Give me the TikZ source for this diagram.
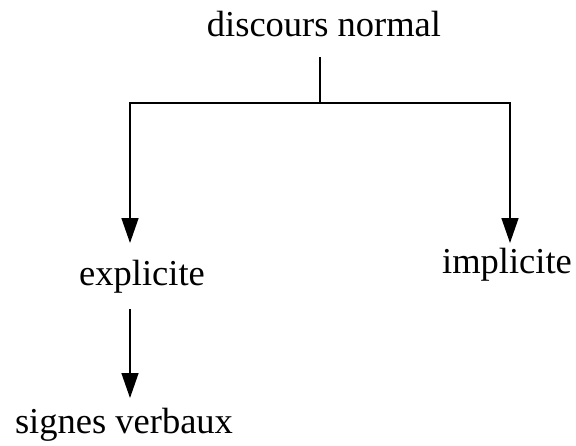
\documentclass[tikz,border=0pt]{standalone}
\usepackage{fontspec}
\setmainfont{Liberation Serif}
\usetikzlibrary{arrows.meta}
\tikzset{
  lbl/.style={anchor=base,inner sep=0pt,font=\fontsize{36.5}{44}\selectfont},
  arr/.style={-{Triangle[length=25pt,width=17pt]},line width=1.4pt},
}
\begin{document}
\begin{tikzpicture}[x=1pt,y=-1pt]
    \useasboundingbox (0,0) rectangle (576,445);
    \node[lbl] (discours) at (324,36) {discours normal};
    \node[lbl] (explicite) at (142,285) {explicite};
    \node[lbl] (implicite) at (507,273) {implicite};
    \node[lbl] (signes) at (124,433) {signes verbaux};
    \coordinate (stem) at (320,57);
    \coordinate (fork) at (320,103);
    \coordinate (ltip) at (130,243);
    \coordinate (rtip) at (510,243);
    \coordinate (lstart) at (130,309);
    \coordinate (ltip2) at (130,398);
    \draw [line width=1.4pt] (stem)--(fork);
    \draw [arr] (fork) -| (ltip);
    \draw [arr] (fork) -| (rtip);
    \draw [arr] (lstart)--(ltip2);
\end{tikzpicture}
\end{document}
